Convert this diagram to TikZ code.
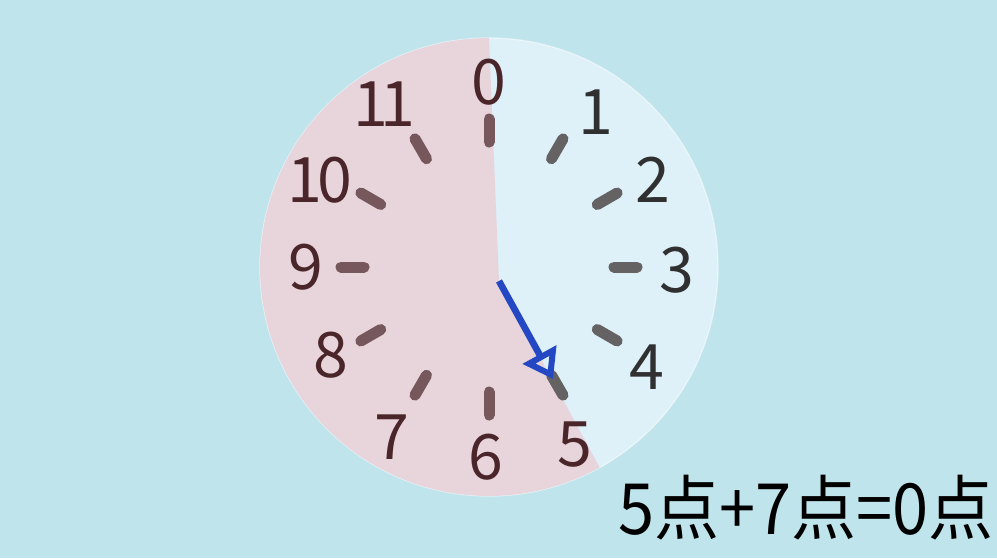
\documentclass[tikz,border=0pt]{standalone}
\usepackage{fontspec}
\usepackage{graphicx}
\usetikzlibrary{arrows.meta}
\newfontfamily\cjk{Noto Sans CJK SC}
\definecolor{bgc}{RGB}{192,228,236}
\definecolor{facec}{RGB}{222,240,248}
\definecolor{pinkc}{RGB}{232,213,220}
\definecolor{tickgray}{RGB}{100,98,99}
\definecolor{tickmar}{RGB}{118,88,92}
\definecolor{diggray}{RGB}{48,48,48}
\definecolor{digmar}{RGB}{74,38,42}
\definecolor{handc}{RGB}{36,72,196}
\tikzset{
  tickline/.style={line width=8.25pt, line cap=round},
  digit/.style={font=\cjk\fontsize{47}{50}\selectfont, inner sep=0pt},
  eqtext/.style={font=\cjk\fontsize{53}{58}\selectfont, inner sep=0pt, text=black},
  handline/.style={draw=handc, line width=5pt,
     -{Triangle[open, length=21pt, width=28pt, line width=4.5pt]}}
}
\begin{document}
\begin{tikzpicture}[x=0.75pt, y=-0.75pt]
\useasboundingbox (0,0) rectangle (997,558);
\fill[bgc] (0,0) rectangle (997,558);
\coordinate (c) at (489,267);
\coordinate (hub) at (499,281);
\coordinate (handtip) at (553,379);
% face
\fill[facec] (c) circle[radius=171.75pt];
\draw[white, opacity=0.5, line width=1pt] (c) circle[radius=171.75pt];
% pink sector
\fill[pinkc] (hub) -- plot[domain=90:298.9, samples=120] ({489+229*cos(\x)}, {267-229*sin(\x)}) -- cycle;
% ticks
\foreach \i in {0,...,11} {
  \pgfmathsetmacro{\ang}{90-30*\i}
  \coordinate (ta\i) at ({489+125*cos(\ang)}, {267-125*sin(\ang)});
  \coordinate (tb\i) at ({489+148*cos(\ang)}, {267-148*sin(\ang)});
}
\foreach \i in {1,2,3,4,5} \draw[tickline, tickgray] (ta\i) -- (tb\i);
\foreach \i in {0,6,7,8,9,10,11} \draw[tickline, tickmar] (ta\i) -- (tb\i);
% digits
\node[digit, text=digmar] (n0) at (489,82) {0};
\node[digit, text=diggray] (n1) at (596,112) {1};
\node[digit, text=diggray] (n2) at (653,180) {2};
\node[digit, text=diggray] (n3) at (677,270) {3};
\node[digit, text=diggray] (n4) at (647,367) {4};
\node[digit, text=digmar] (n5) at (575,445) {5};
\node[digit, text=digmar] (n6) at (486,457) {6};
\node[digit, text=digmar] (n7) at (392,437) {7};
\node[digit, text=digmar] (n8) at (331,355) {8};
\node[digit, text=digmar] (n9) at (306,267) {9};
\node[digit, text=digmar] (n10) at (320,180) {1\kern-4pt0};
\node[digit, text=digmar] (n11) at (384,104) {1\kern-6pt1};
% hand
\draw[handline] (hub) -- (handtip);
% equation
\node[eqtext] (eq) at (806,508) {\scalebox{0.92}[1]{5点+7点=0点}};
\end{tikzpicture}
\end{document}
